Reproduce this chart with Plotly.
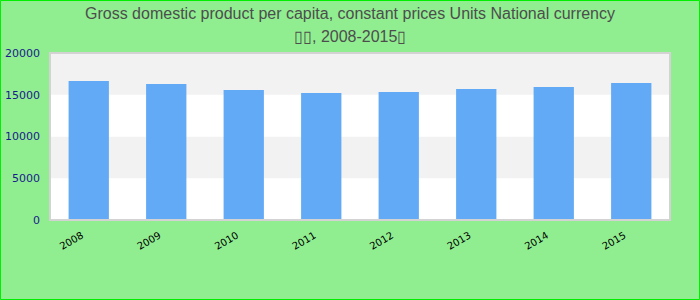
import plotly.graph_objects as go

years = ["2008", "2009", "2010", "2011", "2012", "2013", "2014", "2015"]
values = [16650, 16290, 15570, 15210, 15330, 15690, 15930, 16410]
yticks = [0, 5000, 10000, 15000, 20000]
title_lines = ["Gross domestic product per capita, constant prices Units National currency",
               "▯▯, 2008-2015▯"]

L, R, T, B = 50, 30, 53, 80
W, H = 700, 300
pw, ph = W - L - R, H - T - B

fig = go.Figure()
fig.add_trace(go.Bar(x=years, y=values, marker=dict(color="#62aaf5", line=dict(width=0)),
                     hoverinfo="x+y"))

shapes = []
for i in range(len(yticks) - 1):
    shapes.append(dict(type="rect", xref="paper", yref="y", x0=0, x1=1,
                       y0=yticks[i], y1=yticks[i + 1], layer="below", line=dict(width=0),
                       fillcolor="#ffffff" if i % 2 == 0 else "#f2f2f2"))
shapes.append(dict(type="rect", xref="paper", yref="paper", x0=0, x1=1, y0=0, y1=1,
                   line=dict(color="#d3d3d3", width=2), layer="above"))
shapes.append(dict(type="rect", xref="paper", yref="paper",
                   x0=(-L + 0.5) / pw, x1=(pw + R - 0.5) / pw,
                   y0=(-B + 0.5) / ph, y1=(ph + T - 0.5) / ph,
                   line=dict(color="#00ee00", width=1), layer="above"))

annotations = []
for k, (txt, ypix) in enumerate(zip(title_lines, [13, 36])):
    annotations.append(dict(text=txt, xref="paper", yref="paper", x=(W / 2 - L) / pw,
                            y=(H - B - ypix) / ph, xanchor="center", yanchor="middle",
                            showarrow=False,
                            font=dict(family="Liberation Sans, Arial", size=16, color="#4d4d4d")))

fig.update_layout(
    width=W, height=H,
    margin=dict(l=L, r=R, t=T, b=B, autoexpand=False),
    paper_bgcolor="#90ee90", plot_bgcolor="#ffffff",
    annotations=annotations,
    bargap=0.48,
    showlegend=False,
    shapes=shapes,
    xaxis=dict(tickangle=-30, tickfont=dict(family="DejaVu Sans", size=10, color="#000000"),
               showgrid=False, ticks="", zeroline=False, automargin=False,
               ticklabelstandoff=7, ticklabelshift=-7),
    yaxis=dict(range=[0, 20000], tickvals=yticks, ticktext=[str(v) for v in yticks],
               showgrid=False, zeroline=False, ticklabelstandoff=9, automargin=False,
               tickfont=dict(family="DejaVu Sans", size=11, color="#1a1a8c"), ticks=""),
)

fig.write_html("out.html")
